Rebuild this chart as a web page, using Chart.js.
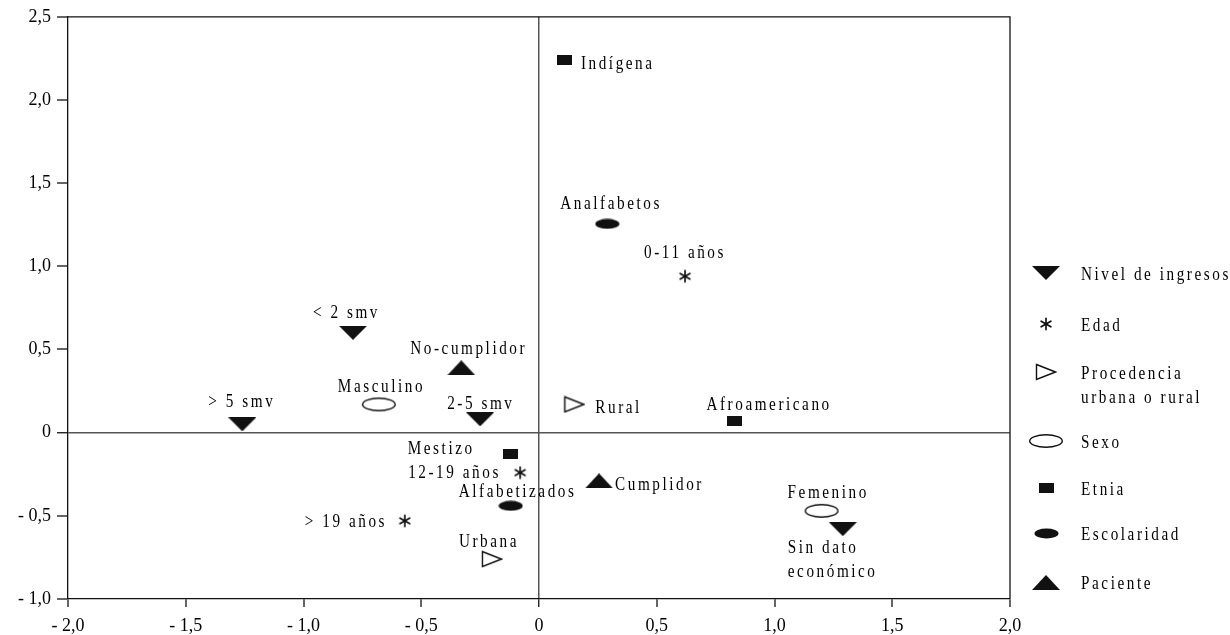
<!DOCTYPE html>
<html>
<head>
<meta charset="utf-8">
<script src="https://cdn.jsdelivr.net/npm/chart.js@4.4.1/dist/chart.umd.min.js"></script>
<style>
  html, body { margin: 0; padding: 0; background: #fff; }
  #wrap { width: 1230px; height: 635px; position: relative; }
</style>
</head>
<body>
<div id="wrap"><canvas id="c"></canvas></div>
<script>
// ---------- DATA ----------
const seriesNames = ['Nivel de ingresos', 'Edad', ['Procedencia', 'urbana o rural'], 'Sexo', 'Etnia', 'Escolaridad', 'Paciente'];

const ingresosLabels = ['< 2 smv', '> 5 smv', '2-5 smv', ['Sin dato', 'económico']];
const ingresosX = [-0.79, -1.26, -0.25, 1.29];
const ingresosY = [0.60, 0.05, 0.08, -0.58];

const edadLabels = ['0-11 años', '12-19 años', '> 19 años'];
const edadX = [0.62, -0.08, -0.57];
const edadY = [0.94, -0.24, -0.53];

const procedenciaLabels = ['Rural', 'Urbana'];
const procedenciaX = [0.15, -0.20];
const procedenciaY = [0.17, -0.76];

const sexoLabels = ['Masculino', 'Femenino'];
const sexoX = [-0.68, 1.20];
const sexoY = [0.17, -0.47];

const etniaLabels = ['Indígena', 'Afroamericano', 'Mestizo'];
const etniaX = [0.11, 0.83, -0.12];
const etniaY = [2.24, 0.07, -0.13];

const escolaridadLabels = ['Analfabetos', 'Alfabetizados'];
const escolaridadX = [0.29, -0.12];
const escolaridadY = [1.255, -0.44];

const pacienteLabels = ['No-cumplidor', 'Cumplidor'];
const pacienteX = [-0.33, 0.255];
const pacienteY = [0.39, -0.29];

const xTicks = [-2, -1.5, -1, -0.5, 0, 0.5, 1, 1.5, 2];
const yTicks = [-1, -0.5, 0, 0.5, 1, 1.5, 2, 2.5];

// ---------- STYLE (label offsets in px relative to the mark: left x, baseline) ----------
const LABEL_OFFSETS = {
  '< 2 smv': [-40, -15], '> 5 smv': [-34, -17], '2-5 smv': [-33, -10], 'Sin dato': [-55, 24],
  '0-11 años': [-41, -18], '12-19 años': [-112, 5], '> 19 años': [-100, 6],
  'Rural': [21, 9], 'Urbana': [-33, -12],
  'Masculino': [-41, -12], 'Femenino': [-34, -13],
  'Indígena': [16, 9], 'Afroamericano': [-28, -11], 'Mestizo': [-103, 0],
  'Analfabetos': [-47, -15], 'Alfabetizados': [-52, -9],
  'No-cumplidor': [-51, -14], 'Cumplidor': [16, 9]
};
const INK = '#000';
const FONT = '19px "Liberation Serif", "Times New Roman", serif';
const SX = 0.8, LS = 3.2, LINE_H = 24;

function mk(w, h, draw) {
  const c = document.createElement('canvas');
  c.width = w; c.height = h;
  const g = c.getContext('2d');
  g.fillStyle = '#111'; g.strokeStyle = '#111';
  draw(g, w, h);
  return c;
}
const mDown = mk(28, 14, g => { g.beginPath(); g.moveTo(0, 0); g.lineTo(28, 0); g.lineTo(14, 14); g.closePath(); g.fill(); });
const mUp = mk(28, 15, g => { g.beginPath(); g.moveTo(14, 0); g.lineTo(28, 15); g.lineTo(0, 15); g.closePath(); g.fill(); });
const mRight = mk(22, 18, g => { g.lineWidth = 1.4; g.beginPath(); g.moveTo(1.5, 1.5); g.lineTo(20.5, 9); g.lineTo(1.5, 16.5); g.closePath(); g.fillStyle = '#fff'; g.fill(); g.stroke(); });
const mOpenEll = mk(36, 16, g => { g.lineWidth = 1.4; g.beginPath(); g.ellipse(18, 8, 16.3, 6.3, 0, 0, Math.PI * 2); g.fillStyle = '#fff'; g.fill(); g.stroke(); });
const mRect = mk(15, 10, g => { g.fillRect(0, 0, 15, 10); });
const mFillEll = mk(25, 11, g => { g.beginPath(); g.ellipse(12.5, 5.5, 12, 5, 0, 0, Math.PI * 2); g.fill(); });
const mStar = mk(14, 14, g => {
  g.lineWidth = 1.7; g.lineCap = 'round';
  for (let k = 0; k < 3; k++) {
    const a = Math.PI / 2 + k * Math.PI / 3;
    g.beginPath();
    g.moveTo(7 + 5.6 * Math.cos(a), 7 + 5.6 * Math.sin(a));
    g.lineTo(7 - 5.6 * Math.cos(a), 7 - 5.6 * Math.sin(a));
    g.stroke();
  }
});
const markers = [mDown, mStar, mRight, mOpenEll, mRect, mFillEll, mUp];

function pts(xs, ys, labels) { return xs.map((x, i) => ({ x: x, y: ys[i], label: labels[i] })); }

const seriesData = [
  pts(ingresosX, ingresosY, ingresosLabels),
  pts(edadX, edadY, edadLabels),
  pts(procedenciaX, procedenciaY, procedenciaLabels),
  pts(sexoX, sexoY, sexoLabels),
  pts(etniaX, etniaY, etniaLabels),
  pts(escolaridadX, escolaridadY, escolaridadLabels),
  pts(pacienteX, pacienteY, pacienteLabels)
];

function drawText(ctx, str, x, y) {
  ctx.save();
  ctx.translate(x, y);
  ctx.scale(SX, 1);
  if ('letterSpacing' in ctx) ctx.letterSpacing = LS + 'px';
  ctx.fillText(str, 0, 0);
  ctx.restore();
}

const labelPlugin = {
  id: 'pointLabels',
  afterDatasetsDraw(chart) {
    const ctx = chart.ctx;
    const xs = chart.scales.x, ys = chart.scales.y;
    ctx.save();
    ctx.font = FONT; ctx.fillStyle = INK; ctx.textAlign = 'left'; ctx.textBaseline = 'alphabetic';
    chart.data.datasets.forEach(ds => {
      ds.data.forEach(p => {
        const px = xs.getPixelForValue(p.x), py = ys.getPixelForValue(p.y);
        const lines = Array.isArray(p.label) ? p.label : [p.label];
        const off = LABEL_OFFSETS[lines[0]] || [8, -8];
        lines.forEach((ln, i) => drawText(ctx, ln, px + off[0], py + off[1] + i * LINE_H));
      });
    });
    ctx.restore();
  }
};

const framePlugin = {
  id: 'frame',
  afterDraw(chart) {
    const { ctx, chartArea: a } = chart;
    ctx.save();
    ctx.strokeStyle = '#111'; ctx.lineWidth = 1.3;
    ctx.beginPath();
    ctx.moveTo(a.left, a.top); ctx.lineTo(a.right, a.top); ctx.lineTo(a.right, a.bottom);
    ctx.stroke();
    ctx.restore();
  }
};

const legendPlugin = {
  id: 'customLegend',
  afterDraw(chart) {
    const ctx = chart.ctx;
    const mx = 1046, tx = 1081;
    const rowY = [273, 324, 372, 441, 488, 533, 582];
    ctx.save();
    ctx.font = FONT; ctx.fillStyle = INK; ctx.textAlign = 'left'; ctx.textBaseline = 'alphabetic';
    seriesNames.forEach((name, i) => {
      const m = markers[i];
      ctx.drawImage(m, Math.round(mx - m.width / 2), Math.round(rowY[i] - m.height / 2));
      const lines = Array.isArray(name) ? name : [name];
      lines.forEach((ln, j) => drawText(ctx, ln, tx, rowY[i] + 7 + j * 24));
    });
    ctx.restore();
  }
};

function fmt(v) {
  if (Math.abs(v) < 1e-9) return '0';
  return (v < 0 ? '- ' : '') + Math.abs(v).toFixed(1).replace('.', ',');
}

new Chart(document.getElementById('c'), {
  type: 'scatter',
  data: {
    datasets: seriesData.map((d, i) => ({
      label: Array.isArray(seriesNames[i]) ? seriesNames[i].join(' ') : seriesNames[i],
      data: d,
      pointStyle: markers[i],
      pointRadius: 8,
      pointHoverRadius: 8,
      backgroundColor: '#111',
      borderColor: '#111'
    }))
  },
  options: {
    responsive: true,
    maintainAspectRatio: false,
    animation: false,
    events: [],
    layout: { padding: { left: 0, right: 220, top: 16, bottom: 0 } },
    plugins: { legend: { display: false }, tooltip: { enabled: false } },
    scales: {
      x: {
        type: 'linear', min: -2, max: 2,
        afterBuildTicks: s => { s.ticks = xTicks.map(v => ({ value: v })); },
        afterFit: s => { s.height = 36; },
        border: { display: true, color: '#111', width: 1.3 },
        grid: {
          drawOnChartArea: true, drawTicks: true, tickLength: 8,
          color: c => (c.tick && c.tick.value === 0) ? '#555' : 'rgba(0,0,0,0)',
          lineWidth: c => (c.tick && c.tick.value === 0) ? 1.5 : 0,
          tickColor: '#111', tickWidth: 1.3
        },
        ticks: {
          padding: 8, maxRotation: 0, autoSkip: false,
          color: INK, font: { family: '"Liberation Serif", "Times New Roman", serif', size: 18 },
          callback: v => fmt(v)
        }
      },
      y: {
        type: 'linear', min: -1, max: 2.5,
        afterBuildTicks: s => { s.ticks = yTicks.map(v => ({ value: v })); },
        afterFit: s => { s.width = 68; },
        border: { display: true, color: '#111', width: 1.3 },
        grid: {
          drawOnChartArea: true, drawTicks: true, tickLength: 11,
          color: c => (c.tick && c.tick.value === 0) ? '#555' : 'rgba(0,0,0,0)',
          lineWidth: c => (c.tick && c.tick.value === 0) ? 1.5 : 0,
          tickColor: '#111', tickWidth: 1.3
        },
        ticks: {
          padding: 6, autoSkip: false,
          color: INK, font: { family: '"Liberation Serif", "Times New Roman", serif', size: 18 },
          callback: v => fmt(v)
        }
      }
    }
  },
  plugins: [labelPlugin, framePlugin, legendPlugin]
});
</script>
</body>
</html>
